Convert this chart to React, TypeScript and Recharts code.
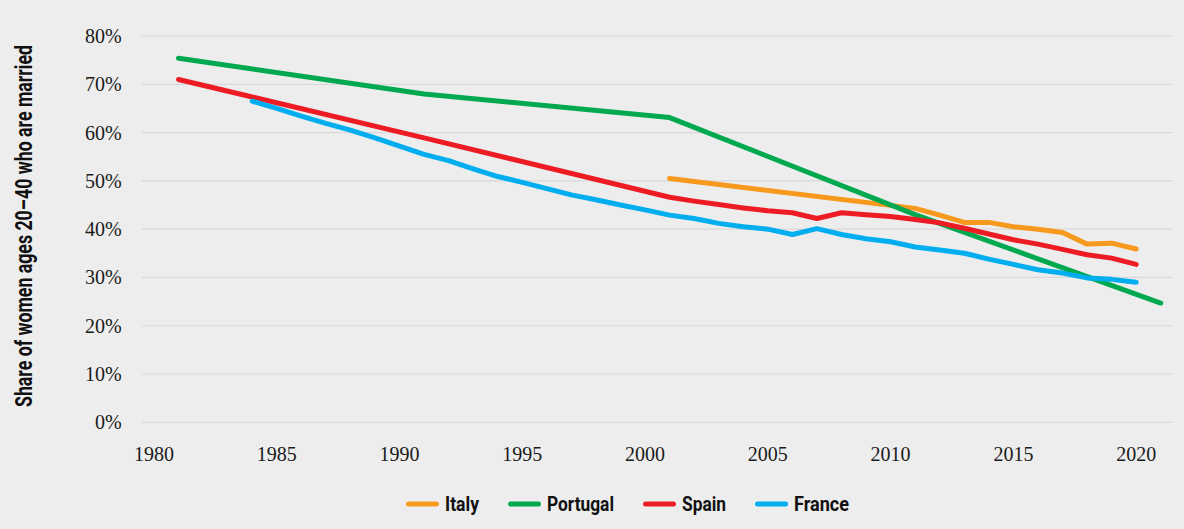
import React from 'react';
import { LineChart, Line, XAxis, YAxis, CartesianGrid } from 'recharts';

const years = [
  1980, 1981, 1982, 1983, 1984, 1985, 1986, 1987, 1988, 1989,
  1990, 1991, 1992, 1993, 1994, 1995, 1996, 1997, 1998, 1999,
  2000, 2001, 2002, 2003, 2004, 2005, 2006, 2007, 2008, 2009,
  2010, 2011, 2012, 2013, 2014, 2015, 2016, 2017, 2018, 2019,
  2020, 2021,
];
const xTicks = [1980, 1985, 1990, 1995, 2000, 2005, 2010, 2015, 2020];
const yTicks = [0, 10, 20, 30, 40, 50, 60, 70, 80];

const italyYears = [2001, 2011, 2012, 2013, 2014, 2015, 2016, 2017, 2018, 2019, 2020];
const italyValues = [50.5, 44.3, 42.9, 41.4, 41.4, 40.5, 40.0, 39.3, 36.9, 37.1, 35.9];

const portugalYears = [1981, 1991, 2001, 2011, 2021];
const portugalValues = [75.4, 68.0, 63.1, 43.0, 24.7];

const spainYears = [
  1981, 1991, 2001, 2002, 2003, 2004, 2005, 2006, 2007, 2008, 2009,
  2010, 2011, 2012, 2013, 2014, 2015, 2016, 2017, 2018, 2019, 2020,
];
const spainValues = [
  71.0, 58.9, 46.6, 45.8, 45.1, 44.4, 43.8, 43.4, 42.2, 43.4, 43.0,
  42.6, 42.0, 41.3, 40.2, 39.0, 37.8, 36.9, 35.8, 34.7, 34.0, 32.7,
];

const franceYears = [
  1984, 1985, 1986, 1987, 1988, 1989, 1990, 1991, 1992, 1993,
  1994, 1995, 1996, 1997, 1998, 1999, 2000, 2001, 2002, 2003,
  2004, 2005, 2006, 2007, 2008, 2009, 2010, 2011, 2012, 2013,
  2014, 2015, 2016, 2017, 2018, 2019, 2020,
];
const franceValues = [
  66.5, 65.0, 63.4, 61.9, 60.5, 58.9, 57.2, 55.5, 54.2, 52.5,
  50.9, 49.7, 48.4, 47.1, 46.1, 45.0, 44.0, 42.9, 42.2, 41.2,
  40.5, 40.0, 38.9, 40.1, 38.9, 38.0, 37.4, 36.3, 35.7, 35.0,
  33.8, 32.7, 31.6, 30.9, 29.9, 29.6, 29.0,
];

const seriesNames = ['Italy', 'Portugal', 'Spain', 'France'];
const seriesColors = ['#F7991C', '#00A94F', '#ED1C24', '#00AEEF'];
const legendTextWidths = [34, 67, 44, 55];

const yAxisTitle = 'Share of women ages 20\u201340 who are married';

const toMap = (ys: number[], vs: number[]) => new Map(ys.map((y, i) => [y, vs[i]]));
const maps = [
  toMap(italyYears, italyValues),
  toMap(portugalYears, portugalValues),
  toMap(spainYears, spainValues),
  toMap(franceYears, franceValues),
];

const data = years.map((y) => {
  const row: Record<string, number | null> = { year: y };
  seriesNames.forEach((name, i) => {
    const v = maps[i].get(y);
    row[name] = v === undefined ? null : v;
  });
  return row;
});

const serifFont = "'Liberation Serif', serif";
const condensedFont = "Roboto, 'Liberation Sans', sans-serif";

const renderXTick = (props: any) => {
  const { x, y, payload } = props;
  return (
    <text
      x={x}
      y={y + 14.5}
      textAnchor="middle"
      fill="#1a1a1a"
      fontSize={20}
      fontFamily={serifFont}
      style={{ fontFamily: serifFont, fontSize: '20px' }}
    >
      {payload.value}
    </text>
  );
};

const renderYTick = (props: any) => {
  const { x, y, payload } = props;
  return (
    <text
      x={x}
      y={y + 7}
      textAnchor="end"
      fill="#1a1a1a"
      fontSize={20}
      fontFamily={serifFont}
      style={{ fontFamily: serifFont, fontSize: '20px' }}
    >
      {`${payload.value}%`}
    </text>
  );
};

const YTitle = () => (
  <text
    x={31.5}
    y={226}
    transform="rotate(-90 31.5 226)"
    textAnchor="middle"
    style={{ fontFamily: condensedFont, fontWeight: 700, fontSize: 23, fill: '#111' }}
    textLength={362}
    lengthAdjust="spacingAndGlyphs"
  >
    {yAxisTitle}
  </text>
);

const LegendBar = () => (
  <div style={{ position: 'absolute', left: 406, top: 491, display: 'flex', flexDirection: 'row', gap: 25 }}>
    {seriesNames.map((name, i) => (
      <svg key={name} width={43 + legendTextWidths[i]} height={28} style={{ display: 'block', overflow: 'visible' }}>
        <line x1={2.5} x2={30.5} y1={13} y2={13} stroke={seriesColors[i]} strokeWidth={5} strokeLinecap="round" />
        <text
          x={39}
          y={19.5}
          style={{ fontFamily: condensedFont, fontWeight: 700, fontSize: 21, fill: '#111' }}
          textLength={legendTextWidths[i]}
          lengthAdjust="spacingAndGlyphs"
        >
          {name}
        </text>
      </svg>
    ))}
  </div>
);

export default function App() {
  return (
    <div style={{ position: 'absolute', left: 0, top: 0, width: 1184, height: 529, background: '#EDEDED', overflow: 'hidden', fontFamily: serifFont }}>
      <LineChart width={1184} height={529} data={data} margin={{ top: 36, right: 11, bottom: 66.7, left: 0 }}>
        <CartesianGrid vertical={false} stroke="#D9D9D9" strokeWidth={1.2} />
        <XAxis
          dataKey="year"
          type="number"
          domain={[1979.5, 2021.5]}
          ticks={xTicks}
          axisLine={false}
          tickLine={false}
          tickSize={0}
          tickMargin={24}
          height={40}
          tick={renderXTick}
          interval={0}
        />
        <YAxis
          type="number"
          domain={[0, 80]}
          ticks={yTicks}
          axisLine={false}
          tickLine={false}
          tickSize={0}
          tickMargin={20}
          width={141.7}
          tick={renderYTick}
          interval={0}
          label={() => <YTitle />}
        />
        {seriesNames.map((name, i) => (
          <Line
            key={name}
            type="linear"
            dataKey={name}
            stroke={seriesColors[i]}
            strokeWidth={5}
            strokeLinecap="round"
            strokeLinejoin="round"
            dot={false}
            activeDot={false}
            connectNulls
            isAnimationActive={false}
          />
        ))}
      </LineChart>
      <LegendBar />
    </div>
  );
}
